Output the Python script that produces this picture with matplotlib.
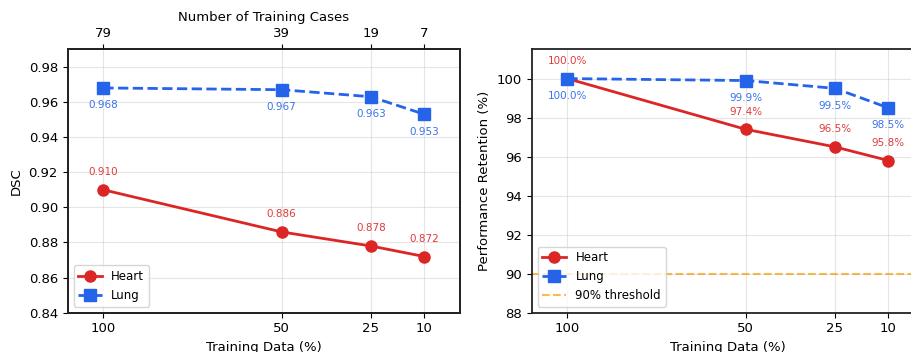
import matplotlib
matplotlib.use('Agg')
import matplotlib.pyplot as plt

# data
train_pct = [100, 50, 25, 10]
train_cases = [79, 39, 19, 7]
heart_dsc = [0.910, 0.886, 0.878, 0.872]
lung_dsc = [0.968, 0.967, 0.963, 0.953]
heart_ret = [100.0, 97.4, 96.5, 95.8]
lung_ret = [100.0, 99.9, 99.5, 98.5]
threshold = 90

red = '#dc2626'
blue = '#2563eb'
orange = '#f59e0b'

plt.rcParams['font.family'] = 'DejaVu Sans'
plt.rcParams['axes.linewidth'] = 1.3
plt.rcParams['axes.edgecolor'] = '#222222'

fig = plt.figure(figsize=(9.12, 3.52), dpi=100)
ax1 = fig.add_axes([0.0742, 0.1116, 0.4302, 0.7483])
ax2 = fig.add_axes([0.583, 0.1116, 0.4302, 0.7483])

# ---- left: DSC ----
ax1.plot(train_pct, heart_dsc, '-o', color=red, lw=2, ms=8, label='Heart')
ax1.plot(train_pct, lung_dsc, '--s', color=blue, lw=2, ms=8, label='Lung')
for x, y in zip(train_pct, heart_dsc):
    ax1.annotate(f'{y:.3f}', (x, y), xytext=(0, 9), textcoords='offset points',
                 ha='center', va='bottom', fontsize=7.5, color=red, alpha=0.9)
for x, y in zip(train_pct, lung_dsc):
    ax1.annotate(f'{y:.3f}', (x, y), xytext=(0, -9), textcoords='offset points',
                 ha='center', va='top', fontsize=7.5, color=blue, alpha=0.9)
ax1.set_xlim(110, 0)
ax1.set_ylim(0.84, 0.99)
ax1.set_xticks(train_pct)
ax1.set_xticklabels([str(p) for p in train_pct])
ax1.set_yticks([0.84, 0.86, 0.88, 0.90, 0.92, 0.94, 0.96, 0.98])
ax1.set_xlabel('Training Data (%)', fontsize=9.5)
ax1.set_ylabel('DSC', fontsize=9.5)
ax1.tick_params(labelsize=9.5)
ax1.grid(True, color='#cccccc', alpha=0.5, lw=0.8)
ax1.legend(loc='lower left', fontsize=8.5)

top = ax1.twiny()
top.set_xlim(ax1.get_xlim())
top.set_xticks(train_pct)
top.set_xticklabels([str(c) for c in train_cases])
top.set_xlabel('Number of Training Cases', fontsize=9.5)
top.tick_params(labelsize=9.5)

# ---- right: retention ----
ax2.plot(train_pct, heart_ret, '-o', color=red, lw=2, ms=8, label='Heart')
ax2.plot(train_pct, lung_ret, '--s', color=blue, lw=2, ms=8, label='Lung')
ax2.axhline(threshold, color=orange, ls='--', lw=1.5, alpha=0.7, label='90% threshold')
for x, y in zip(train_pct, heart_ret):
    ax2.annotate(f'{y:.1f}%', (x, y), xytext=(0, 9), textcoords='offset points',
                 ha='center', va='bottom', fontsize=7.5, color=red, alpha=0.9)
for x, y in zip(train_pct, lung_ret):
    ax2.annotate(f'{y:.1f}%', (x, y), xytext=(0, -9), textcoords='offset points',
                 ha='center', va='top', fontsize=7.5, color=blue, alpha=0.9)
ax2.set_xlim(110, 0)
ax2.set_ylim(88, 101.5)
ax2.set_xticks(train_pct)
ax2.set_xticklabels([str(p) for p in train_pct])
ax2.set_yticks([88, 90, 92, 94, 96, 98, 100])
ax2.set_xlabel('Training Data (%)', fontsize=9.5)
ax2.set_ylabel('Performance Retention (%)', fontsize=9.5)
ax2.tick_params(labelsize=9.5)
ax2.grid(True, color='#cccccc', alpha=0.5, lw=0.8)
ax2.legend(loc='lower left', fontsize=8.5)

fig.savefig('out.png', dpi=100)
